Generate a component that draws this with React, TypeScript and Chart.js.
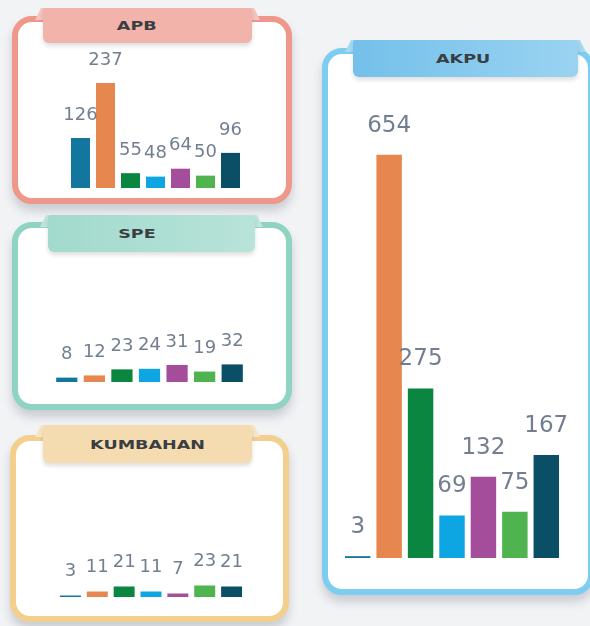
import React, { useEffect, useRef } from "react";
import { Chart, registerables } from "chart.js";

Chart.register(...registerables);

// ---- data ----
const categories = ["1", "2", "3", "4", "5", "6", "7"];
const apbValues = [126, 237, 55, 48, 64, 50, 96];
const speValues = [8, 12, 23, 24, 31, 19, 32];
const kumbahanValues = [3, 11, 21, 11, 7, 23, 21];
const akpuValues = [3, 654, 275, 69, 132, 75, 167];
const barColors = ["#13769e", "#e5874e", "#0b8641", "#0ea5e3", "#a44e9b", "#4fb34f", "#0b4f66"];

type PanelProps = {
  values: number[];
  min: number;
  max: number;
  areaLeft: number;
  areaRight: number;
  areaTop: number;
  baseline: number;
  barPct: number;
  fontSize: number;
  labelOffset: number;
};

const PAD = 30;

function BarPanel(p: PanelProps) {
  const ref = useRef<HTMLCanvasElement | null>(null);
  const width = p.areaRight - p.areaLeft + PAD * 2;
  const height = p.baseline - p.areaTop;
  useEffect(() => {
    if (!ref.current) return;
    const labelPlugin = {
      id: "valueLabels",
      afterDatasetsDraw(chart: any) {
        const ctx = chart.ctx;
        const meta = chart.getDatasetMeta(0);
        ctx.save();
        ctx.font = `${p.fontSize}px "DejaVu Sans", sans-serif`;
        ctx.fillStyle = "#737f90";
        ctx.textAlign = "center";
        ctx.textBaseline = "middle";
        meta.data.forEach((el: any, i: number) => {
          ctx.fillText(String(p.values[i]), el.x, el.y - p.labelOffset);
        });
        ctx.restore();
      },
    };
    const chart = new Chart(ref.current, {
      type: "bar",
      data: {
        labels: categories,
        datasets: [
          {
            data: p.values,
            backgroundColor: barColors,
            borderWidth: 0,
            barPercentage: p.barPct,
            categoryPercentage: 1,
          },
        ],
      },
      options: {
        responsive: false,
        maintainAspectRatio: false,
        animation: false,
        layout: { padding: { left: PAD, right: PAD, top: 0, bottom: 0 } },
        scales: {
          x: { display: false },
          y: { display: false, min: p.min, max: p.max },
        },
        plugins: { legend: { display: false }, tooltip: { enabled: false } },
      },
      plugins: [labelPlugin],
    });
    return () => chart.destroy();
  }, []);
  return (
    <canvas
      ref={ref}
      width={width}
      height={height}
      style={{ position: "absolute", left: p.areaLeft - PAD, top: p.areaTop, width, height }}
    />
  );
}

type CardProps = {
  left: number; top: number; width: number; height: number; border: string;
  tabLeft: number; tabTop: number; tabWidth: number; tabHeight: number; tabBg: string; tabEar: string;
  title: string; titleX: number;
};

function Card(c: CardProps) {
  return (
    <>
      <div
        style={{
          position: "absolute", left: c.left, top: c.top, width: c.width, height: c.height,
          boxSizing: "border-box", border: `6px solid ${c.border}`, borderRadius: 20,
          background: "#ffffff", boxShadow: "0 7px 10px rgba(60,70,90,0.22)",
        }}
      />
      <div
        style={{
          position: "absolute", left: c.tabLeft - 8, top: c.tabTop, width: c.tabWidth + 16, height: 12,
          background: c.tabEar,
          clipPath: "polygon(0 100%, 6px 0, calc(100% - 6px) 0, 100% 100%)",
        }}
      />
      <div
        style={{
          position: "absolute", left: c.tabLeft, top: c.tabTop, width: c.tabWidth, height: c.tabHeight,
          background: c.tabBg, borderRadius: "3px 3px 6px 6px",
          boxShadow: "0 3px 4px rgba(0,0,0,0.13)",
        }}
      />
      <div
        style={{
          position: "absolute", left: c.titleX - 100, top: c.tabTop, width: 200, height: c.tabHeight,
          display: "flex", alignItems: "center", justifyContent: "center",
          fontFamily: '"DejaVu Sans", sans-serif', fontWeight: "bold", fontSize: 13, color: "#3a3d42",
        }}
      >
        <span style={{ display: "inline-block", transform: "scaleX(1.35)" }}>{c.title}</span>
      </div>
    </>
  );
}

export default function App() {
  return (
    <div
      style={{
        position: "absolute", left: 0, top: 0, width: 590, height: 626, overflow: "hidden",
        background: "#f2f3f5",
      }}
    >
      <Card left={12} top={16} width={280} height={188} border="#f0978b"
        tabLeft={43} tabTop={8} tabWidth={209} tabHeight={35} tabBg="#f2b3aa" tabEar="#f5c4bd"
        title="APB" titleX={137} />
      <Card left={12} top={222} width={280} height={188} border="#8fd4c3"
        tabLeft={48} tabTop={215} tabWidth={207} tabHeight={37} tabBg="linear-gradient(90deg,#a2dacd,#b8e3d9)" tabEar="#bfe6dc"
        title="SPE" titleX={137} />
      <Card left={10} top={435} width={279} height={187} border="#f3cf8e"
        tabLeft={43} tabTop={425} tabWidth={209} tabHeight={38} tabBg="#f4dcb0" tabEar="#f7e5c6"
        title="KUMBAHAN" titleX={148} />
      <Card left={322} top={48} width={272} height={547} border="#7ccdf0"
        tabLeft={353} tabTop={40} tabWidth={225} tabHeight={37} tabBg="linear-gradient(90deg,#74c0ea,#9ad3f1)" tabEar="#a6d9f2"
        title="AKPU" titleX={463} />

      <BarPanel values={apbValues} min={25} max={308} areaLeft={68} areaRight={243} areaTop={48}
        baseline={188} barPct={0.76} fontSize={18} labelOffset={23} />
      <BarPanel values={speValues} min={0} max={131} areaLeft={53} areaRight={246} areaTop={310}
        baseline={382} barPct={0.77} fontSize={18} labelOffset={23} />
      <BarPanel values={kumbahanValues} min={0} max={114} areaLeft={57} areaRight={245} areaTop={540}
        baseline={597} barPct={0.78} fontSize={18} labelOffset={24} />
      <BarPanel values={akpuValues} min={0} max={743} areaLeft={342} areaRight={562} areaTop={100}
        baseline={558} barPct={0.81} fontSize={23} labelOffset={29} />
    </div>
  );
}
